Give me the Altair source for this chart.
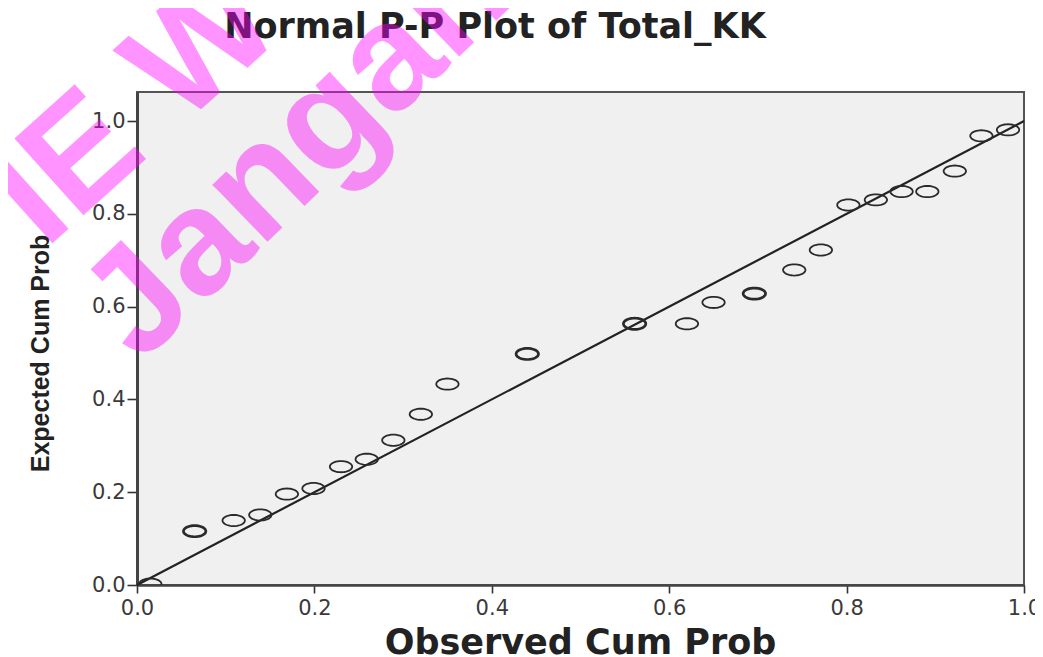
import math
import altair as alt
import pandas as pd

# ---- data ----
obs_cum = [0.015, 0.065, 0.109, 0.139, 0.169, 0.199, 0.230, 0.259, 0.289, 0.320,
           0.350, 0.440, 0.561, 0.620, 0.650, 0.696, 0.741, 0.771, 0.802, 0.833,
           0.862, 0.891, 0.922, 0.952, 0.982]
exp_cum = [0.002, 0.116, 0.139, 0.151, 0.196, 0.208, 0.255, 0.271, 0.312, 0.368,
           0.433, 0.498, 0.563, 0.563, 0.609, 0.628, 0.679, 0.722, 0.819, 0.830,
           0.848, 0.848, 0.892, 0.968, 0.981]
tie_count = [1, 2, 1, 1, 1, 1, 1, 1, 1, 1,
             1, 2, 2, 1, 1, 2, 1, 1, 1, 1,
             1, 1, 1, 1, 1]
ref_line = [0.0, 1.0]
tick_values = [0.0, 0.2, 0.4, 0.6, 0.8, 1.0]
chart_title = "Normal P-P Plot of Total_KK"
x_title = "Observed Cum Prob"
y_title = "Expected Cum Prob"
watermark_1 = ["IE W"]
watermark_2 = ["Jangan"]

pts = pd.DataFrame({"obs": obs_cum, "exp": exp_cum, "n": tie_count})
line_df = pd.DataFrame({"obs": ref_line, "exp": ref_line})

# flattened open ellipse symbol (style only)
ell = "M " + " L ".join(
    f"{math.cos(2 * math.pi * k / 40):.4f},{0.5 * math.sin(2 * math.pi * k / 40):.4f}"
    for k in range(40)) + " Z"

W, H = 887, 493
x_scale = alt.Scale(domain=[0, 1], nice=False, zero=False)
y_scale = alt.Scale(domain=[0, 1.0625], nice=False, zero=False)

x_axis = alt.Axis(values=tick_values, format=".1f", grid=False, title=x_title,
                  labelFlush=False, labelOverlap=False,
                  domainColor="#444", domainWidth=2.5, tickColor="#333", tickWidth=1.6,
                  tickSize=8, labelPadding=4, labelFont="DejaVu Sans", labelFontSize=21,
                  labelColor="#3a3a3a", titleFont="DejaVu Sans", titleFontWeight="bold",
                  titleFontSize=35, titleColor="#222", titleBaseline="alphabetic",
                  titleX=443, titleY=68, titleAlign="center")
y_axis = alt.Axis(values=tick_values, format=".1f", grid=False, title=y_title,
                  labelFlush=False, labelOverlap=False,
                  domainColor="#444", domainWidth=3, tickColor="#333", tickWidth=1.6,
                  tickSize=10, labelPadding=2, labelFont="DejaVu Sans", labelFontSize=21,
                  labelColor="#3a3a3a", titleFont="Liberation Sans",
                  titleFontWeight="bold", titleFontSize=25, titleColor="#222",
                  titleBaseline="alphabetic", titleAngle=270, titleX=-89, titleY=261,
                  titleAlign="center")

x_enc = alt.X("obs:Q", scale=x_scale, axis=x_axis)
y_enc = alt.Y("exp:Q", scale=y_scale, axis=y_axis)

line = alt.Chart(line_df).mark_line(color="#222", strokeWidth=2.2).encode(x=x_enc, y=y_enc)

points = alt.Chart(pts).mark_point(shape=ell, size=500, filled=False, color="#2a2a2a",
                                   clip=True, opacity=1).encode(
    x=x_enc, y=y_enc,
    strokeWidth=alt.condition("datum.n > 1", alt.value(2.7), alt.value(1.8)),
)

title = alt.Chart(pd.DataFrame({"t": [chart_title]})).mark_text(
    font="DejaVu Sans", fontWeight="bold", fontSize=35, color="#222",
    align="center", baseline="alphabetic").encode(
    text="t:N", x=alt.value(358), y=alt.value(-54))

wm1 = alt.Chart(pd.DataFrame({"t": watermark_1})).mark_text(
    font="Liberation Sans", fontWeight="bold", fontSize=150, color="#FF00FF",
    opacity=0.42, angle=318, align="left", baseline="alphabetic").encode(
    text="t:N", x=alt.value(-92), y=alt.value(158))

wm2 = alt.Chart(pd.DataFrame({"t": watermark_2})).mark_text(
    font="Liberation Sans", fontWeight="bold", fontSize=150, color="#FF00FF",
    opacity=0.42, angle=316, align="left", baseline="alphabetic").encode(
    text="t:N", x=alt.value(3), y=alt.value(273))

chart = alt.layer(line, points, title, wm1, wm2).properties(
    width=W, height=H,
    autosize=alt.AutoSizeParams(type="none"),
    padding={"left": 129, "top": 84, "right": 11, "bottom": 72},
    background="white",
).configure_view(
    fill="#EFF0EF", stroke="#555", strokeWidth=2
)

chart.save("out.html", embed_options={"renderer": "svg", "actions": False})
